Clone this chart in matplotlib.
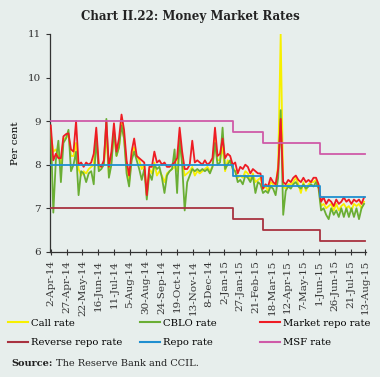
import matplotlib
matplotlib.use('Agg')
import matplotlib.pyplot as plt
from matplotlib.lines import Line2D
import numpy as np
import pandas as pd

plt.rcParams['font.family'] = 'DejaVu Serif'
plt.rcParams['font.size'] = 7

# sample dates, every 4 days from 2-Apr-14
dates = pd.date_range('2014-04-02', periods=125, freq='4D')

market_repo = [8.9, 8.1, 8.25, 8.15, 8.15, 8.65, 8.7, 8.72, 8.35, 8.3,
               9.0, 8.0, 8.05, 7.95, 8.05, 8.0, 8.05, 8.25, 8.85, 8.0,
               7.95, 8.1, 9.0, 7.95, 8.3, 8.95, 8.3, 8.6, 9.15, 8.8,
               8.1, 7.75, 8.3, 8.6, 8.2, 8.15, 8.1, 8.05, 7.3, 7.95,
               7.95, 8.3, 8.05, 8.1, 8.0, 8.05, 7.95, 7.95, 8.0, 8.05,
               8.15, 8.85, 8.3, 7.9, 7.9, 8.0, 8.55, 8.05, 8.1, 8.05,
               8.0, 8.1, 8.0, 8.05, 8.15, 8.85, 8.2, 8.25, 8.6, 8.15,
               8.25, 8.2, 8.0, 8.05, 7.8, 7.95, 7.9, 8.0, 7.95, 7.8,
               7.9, 7.85, 7.8, 7.8, 7.45, 7.55, 7.5, 7.7, 7.6, 7.55,
               7.9, 9.05, 7.6, 7.55, 7.65, 7.6, 7.7, 7.75, 7.65, 7.6,
               7.7, 7.6, 7.65, 7.6, 7.7, 7.7, 7.55, 7.15, 7.25, 7.1,
               7.2, 7.15, 7.05, 7.2, 7.1, 7.15, 7.25, 7.15, 7.2, 7.1,
               7.2, 7.15, 7.2, 7.1, 7.25]

cblo = [8.8, 6.9, 8.1, 8.55, 7.6, 8.5, 8.6, 8.8, 7.85, 8.0,
        8.3, 7.3, 7.85, 7.8, 7.6, 7.8, 7.85, 7.55, 8.6, 7.85,
        7.9, 8.0, 9.05, 7.7, 8.0, 8.8, 8.2, 8.4, 8.9, 8.6,
        7.8, 7.5, 8.1, 8.3, 8.1, 7.9, 7.65, 7.9, 7.2, 7.8,
        7.65, 8.0, 7.9, 7.95, 7.7, 7.35, 7.75, 7.85, 7.9, 8.35,
        7.35, 8.6, 8.0, 6.95, 7.6, 7.75, 7.9, 7.85, 7.9, 7.85,
        7.9, 7.85, 7.9, 7.8, 7.95, 8.5, 8.0, 8.05, 8.85, 7.9,
        8.0, 8.1, 7.9, 7.85, 7.6, 7.65, 7.55, 7.75, 7.7, 7.6,
        7.75, 7.35, 7.6, 7.55, 7.35, 7.4, 7.35, 7.5, 7.45, 7.3,
        7.7, 9.25, 6.85, 7.4, 7.5, 7.45, 7.55, 7.6, 7.5, 7.45,
        7.55, 7.45, 7.5, 7.55, 7.5, 7.6, 7.45, 6.95, 7.0, 6.85,
        6.75, 7.0, 6.85, 6.95, 6.8, 7.0, 6.8, 7.0, 6.8, 7.0,
        6.8, 7.0, 6.75, 7.0, 7.1]

call = [8.7, 8.3, 8.35, 8.2, 8.0, 8.6, 8.6, 8.7, 8.2, 8.2,
        8.5, 7.9, 7.75, 7.85, 7.8, 7.9, 7.95, 8.0, 8.7, 7.9,
        8.0, 8.0, 8.7, 7.75, 8.1, 8.75, 8.2, 8.4, 8.95, 8.6,
        7.95, 7.6, 8.15, 8.4, 8.2, 8.1, 7.9, 8.0, 7.3, 7.9,
        7.8, 8.05, 7.75, 7.85, 7.75, 7.6, 7.8, 7.85, 7.9, 7.95,
        7.85, 8.6, 8.1, 7.75, 7.8, 7.85, 7.95, 7.75, 7.85, 7.8,
        7.85, 7.9, 7.95, 7.85, 7.95, 8.6, 8.1, 8.1, 8.4, 7.85,
        8.1, 8.05, 7.95, 7.85, 7.7, 7.75, 7.7, 7.85, 7.8, 7.65,
        7.8, 7.6, 7.65, 7.7, 7.45, 7.5, 7.4, 7.6, 7.55, 7.5,
        8.0, 11.0, 7.5, 7.45, 7.55, 7.55, 7.6, 7.7, 7.55, 7.35,
        7.6, 7.4, 7.55, 7.6, 7.6, 7.65, 7.5, 7.05, 7.1, 7.0,
        7.05, 7.1, 6.95, 7.1, 6.95, 7.05, 7.1, 7.0, 7.05, 6.95,
        7.1, 7.05, 7.1, 7.0, 7.15]

# policy corridor
policy_dates = pd.to_datetime(['2014-04-02', '2015-01-15', '2015-03-04', '2015-06-02', '2015-08-13'])
repo = [8.0, 7.75, 7.5, 7.25, 7.25]
reverse_repo = [7.0, 6.75, 6.5, 6.25, 6.25]
msf = [9.0, 8.75, 8.5, 8.25, 8.25]

tick_labels = ['2-Apr-14', '27-Apr-14', '22-May-14', '16-Jun-14', '11-Jul-14', '5-Aug-14',
               '30-Aug-14', '24-Sep-14', '19-Oct-14', '13-Nov-14', '8-Dec-14', '2-Jan-15',
               '27-Jan-15', '21-Feb-15', '18-Mar-15', '12-Apr-15', '7-May-15', '1-Jun-15',
               '26-Jun-15', '21-Jul-15', '13-Aug-15']
tick_dates = pd.to_datetime(tick_labels, format='%d-%b-%y')

bg = '#e7eeec'
c_call = '#f7f000'
c_cblo = '#6aae34'
c_repo_mkt = '#ee1c24'
c_rev = '#a83240'
c_repo = '#1f8fd0'
c_msf = '#cf5aa8'

fig = plt.figure(figsize=(3.8, 3.77), dpi=100, facecolor=bg)
ax = fig.add_axes([0.132, 0.332, 0.831, 0.578], facecolor=bg)

ax.plot(dates, call, color=c_call, lw=1.3, zorder=2)
ax.plot(dates, cblo, color=c_cblo, lw=1.3, zorder=3)
ax.plot(dates, market_repo, color=c_repo_mkt, lw=1.3, zorder=4)
ax.plot(policy_dates, reverse_repo, color=c_rev, lw=1.3, drawstyle='steps-post', zorder=5)
ax.plot(policy_dates, repo, color=c_repo, lw=1.3, drawstyle='steps-post', zorder=5)
ax.plot(policy_dates, msf, color=c_msf, lw=1.3, drawstyle='steps-post', zorder=5)

ax.set_ylim(6, 11)
ax.set_yticks([6, 7, 8, 9, 10, 11])
ax.set_xlim(tick_dates[0] - pd.Timedelta(days=1), tick_dates[-1] + pd.Timedelta(days=1))
ax.set_xticks(tick_dates)
ax.set_xticklabels(tick_labels, rotation=90)
ax.set_ylabel('Per cent', fontsize=7.5, labelpad=6)

for s in ['top', 'right']:
    ax.spines[s].set_visible(False)
for s in ['left', 'bottom']:
    ax.spines[s].set_color('#333333')
    ax.spines[s].set_linewidth(0.9)
ax.tick_params(axis='both', length=3, width=0.8, colors='#333333', labelsize=7.5)
ax.tick_params(axis='x', direction='inout', length=5)

fig.text(0.5, 0.955, 'Chart II.22: Money Market Rates', ha='center', va='center',
         fontsize=8.5, fontweight='bold', color='#222222')

cols = [
    [('Call rate', c_call), ('Reverse repo rate', c_rev)],
    [('CBLO rate', c_cblo), ('Repo rate', c_repo)],
    [('Market repo rate', c_repo_mkt), ('MSF rate', c_msf)],
]
xs = [0.02, 0.368, 0.685]
for x0, col in zip(xs, cols):
    handles = [Line2D([], [], color=c, lw=1.5) for _, c in col]
    fig.legend(handles, [l for l, _ in col], loc='upper left', bbox_to_anchor=(x0, 0.155),
               frameon=False, fontsize=7.2, handlelength=2.0, handletextpad=0.3,
               labelspacing=1.05, borderaxespad=0, borderpad=0)

fig.text(0.03, 0.037, 'Source:', fontsize=7, fontweight='bold', color='#222222', va='center')
fig.text(0.148, 0.037, 'The Reserve Bank and CCIL.', fontsize=7, color='#222222', va='center')

fig.savefig('out.png', dpi=100, facecolor=bg)
